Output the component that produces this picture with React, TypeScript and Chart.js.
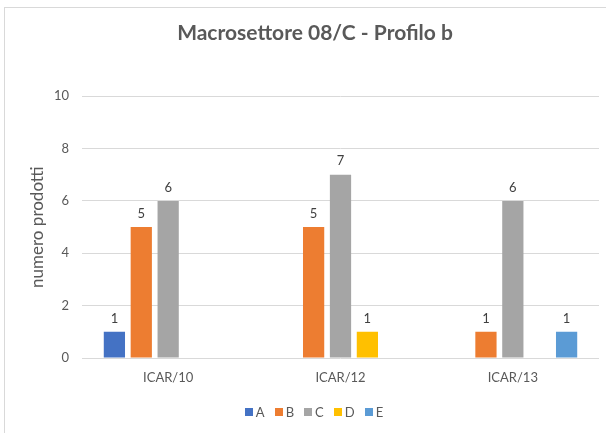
import React, { useEffect, useRef } from "react";
import { Chart, registerables } from "chart.js";

Chart.register(...registerables);

const TITLE = "Macrosettore 08/C - Profilo b";
const Y_TITLE = "numero prodotti";
const CATEGORIES = ["ICAR/10", "ICAR/12", "ICAR/13"];
const SERIES_NAMES = ["A", "B", "C", "D", "E"];
const SERIES_A = [1, null, null];
const SERIES_B = [5, 5, 1];
const SERIES_C = [6, 7, 6];
const SERIES_D = [null, 1, null];
const SERIES_E = [null, null, 1];
const COLORS = ["#4472C4", "#ED7D31", "#A5A5A5", "#FFC000", "#5B9BD5"];
const Y_MIN = 0;
const Y_MAX = 10;
const Y_STEP = 2;

const FONT = "Lato, 'Open Sans', sans-serif";
const TEXT = "#595959";

const valueLabels = {
  id: "valueLabels",
  afterDatasetsDraw(chart: any) {
    const ctx = chart.ctx;
    ctx.save();
    ctx.font = `13px ${FONT}`;
    ctx.fillStyle = "#404040";
    ctx.textAlign = "center";
    ctx.textBaseline = "bottom";
    chart.data.datasets.forEach((ds: any, i: number) => {
      const meta = chart.getDatasetMeta(i);
      meta.data.forEach((bar: any, j: number) => {
        const v = ds.data[j];
        if (v === null || v === undefined) return;
        ctx.fillText(String(v), bar.x, bar.y - 7);
      });
    });
    ctx.restore();
  },
};

const titleAndLegend = {
  id: "titleAndLegend",
  afterDraw(chart: any) {
    const ctx = chart.ctx;
    ctx.save();
    ctx.font = `bold 21px ${FONT}`;
    ctx.fillStyle = TEXT;
    ctx.textAlign = "center";
    ctx.textBaseline = "middle";
    ctx.fillText(TITLE, 315, 33);

    // legend
    ctx.font = `13px ${FONT}`;
    ctx.textAlign = "left";
    const box = 8;
    const gapText = 3;
    const gapItem = 10;
    const items = chart.data.datasets.map((ds: any) => ({
      label: ds.label,
      color: ds.backgroundColor,
      w: ctx.measureText(ds.label).width,
    }));
    const total = items.reduce(
      (s: number, it: any, i: number) => s + box + gapText + it.w + (i < items.length - 1 ? gapItem : 0),
      0
    );
    let x = 314 - total / 2;
    const cy = 412;
    items.forEach((it: any) => {
      ctx.fillStyle = it.color;
      ctx.fillRect(Math.round(x), cy - box / 2, box, box);
      ctx.fillStyle = TEXT;
      ctx.fillText(it.label, x + box + gapText, cy + 1);
      x += box + gapText + it.w + gapItem;
    });
    ctx.restore();
  },
};

export default function App() {
  const ref = useRef<HTMLCanvasElement>(null);
  useEffect(() => {
    document.body.style.margin = "0";
    const seriesData = [SERIES_A, SERIES_B, SERIES_C, SERIES_D, SERIES_E];
    const chart = new Chart(ref.current!, {
      type: "bar",
      data: {
        labels: CATEGORIES,
        datasets: SERIES_NAMES.map((name, i) => ({
          label: name,
          data: seriesData[i],
          backgroundColor: COLORS[i],
          borderWidth: 0,
          categoryPercentage: 0.78,
          barPercentage: 0.79,
        })),
      },
      options: {
        animation: false,
        responsive: false,
        maintainAspectRatio: false,
        layout: { padding: { left: 0, right: 7, top: 0, bottom: 31 } },
        plugins: {
          title: {
            display: true,
            text: TITLE,
            color: "rgba(0,0,0,0)",
            font: { family: FONT, size: 21, weight: "bold" },
            padding: { top: 20, bottom: 51 },
          },
          legend: { display: false },
          tooltip: { enabled: false },
        },
        scales: {
          x: {
            grid: { display: false, drawTicks: false },
            border: { display: false },
            ticks: {
              color: TEXT,
              font: { family: FONT, size: 13 },
              padding: 12,
            },
            afterFit(scale: any) {
              scale.height = 44;
            },
          },
          y: {
            min: Y_MIN,
            max: Y_MAX,
            grid: { color: "#D9D9D9", drawTicks: false, lineWidth: 1 },
            border: { display: false },
            ticks: {
              stepSize: Y_STEP,
              color: TEXT,
              font: { family: FONT, size: 13 },
              padding: 13,
            },
            title: {
              display: true,
              text: Y_TITLE,
              color: TEXT,
              font: { family: FONT, size: 17 },
              padding: { top: 27, bottom: 0 },
            },
            afterFit(scale: any) {
              scale.width = 82;
            },
          },
        },
      },
      plugins: [valueLabels, titleAndLegend],
    });
    return () => chart.destroy();
  }, []);
  return (
    <div style={{ position: "relative", width: 606, height: 433, background: "#fff" }}>
      <div
        style={{
          position: "absolute",
          left: 4,
          top: 7,
          right: -2,
          bottom: -2,
          borderLeft: "1px solid #D9D9D9",
          borderTop: "1px solid #D9D9D9",
        }}
      />
      <canvas ref={ref} width={606} height={433} style={{ position: "absolute", left: 0, top: 0 }} />
    </div>
  );
}
